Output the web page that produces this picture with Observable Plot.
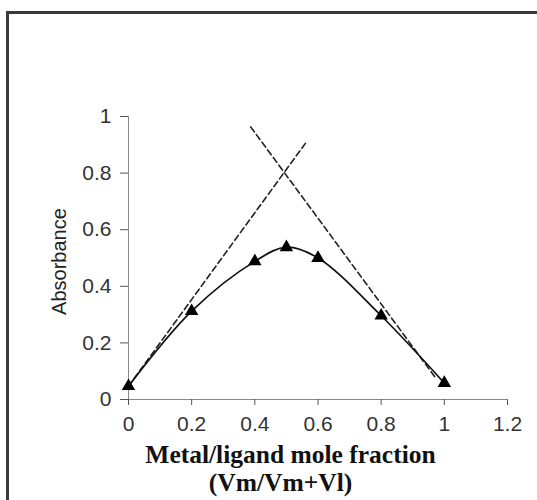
<!DOCTYPE html>
<html>
<head>
<meta charset="utf-8">
<script src="https://cdn.jsdelivr.net/npm/d3@7"></script>
<script src="https://cdn.jsdelivr.net/npm/@observablehq/plot@0.6"></script>
<style>
  html, body { margin: 0; padding: 0; background: #fff; overflow: hidden; }
  #wrap { position: relative; width: 537px; height: 500px; overflow: hidden; }
  #border { position: absolute; left: 6px; top: 11px; width: 1000px; height: 1000px;
            border-left: 3px solid #3a3a3a; border-top: 3px solid #3a3a3a; box-sizing: border-box; }
  #chart { position: absolute; left: 0; top: 0; }
</style>
</head>
<body>
<div id="wrap"><div id="border"></div><div id="chart"></div></div>
<script>
// Measured data (Job's method)
const fraction = [0, 0.2, 0.4, 0.5, 0.6, 0.8, 1.0];
const absorbance = [0.047, 0.312, 0.488, 0.538, 0.500, 0.296, 0.058];

// Extrapolated tangent lines (dashed)
const ascX = [0, 0.56];
const ascY = [0.047, 0.905];
const descX = [0.387, 0.97];
const descY = [0.963, 0.08];

const xTicks = [0, 0.2, 0.4, 0.6, 0.8, 1.0, 1.2];
const yTicks = [0, 0.2, 0.4, 0.6, 0.8, 1.0];
const xTitle1 = "Metal/ligand mole fraction";
const xTitle2 = "(Vm/Vm+Vl)";
const yTitle = "Absorbance";

const pts = fraction.map((f, i) => ({x: f, y: absorbance[i]}));
const asc = ascX.map((v, i) => ({x: v, y: ascY[i]}));
const desc = descX.map((v, i) => ({x: v, y: descY[i]}));
const fmt = d => String(+d.toFixed(1));

const chart = Plot.plot({
  width: 537,
  height: 500,
  marginLeft: 128,
  marginRight: 30,
  marginTop: 116,
  marginBottom: 101,
  x: {domain: [0, 1.2]},
  y: {domain: [0, 1]},
  style: {fontFamily: "'Liberation Sans', Arial, sans-serif", background: "transparent", color: "#333"},
  marks: [
    Plot.ruleY([0], {stroke: "#888", strokeWidth: 1}),
    Plot.ruleX([0], {stroke: "#888", strokeWidth: 1}),
    Plot.axisX({ticks: xTicks, tickFormat: fmt, tickSize: 6, tickPadding: 11, fontSize: 21, label: null, stroke: "#555"}),
    Plot.axisY({ticks: yTicks, tickFormat: fmt, tickSize: 8, tickPadding: 9, fontSize: 21, label: null, stroke: "#555"}),
    Plot.line(asc, {x: "x", y: "y", stroke: "#222", strokeWidth: 1.6, strokeDasharray: "6,3.5"}),
    Plot.line(desc, {x: "x", y: "y", stroke: "#222", strokeWidth: 1.6, strokeDasharray: "6,3.5"}),
    Plot.line(pts, {x: "x", y: "y", stroke: "#111", strokeWidth: 1.7, curve: "catmull-rom"}),
    Plot.dot(pts, {x: "x", y: "y", symbol: "triangle", r: 5, fill: "#000", stroke: "none"}),
    Plot.text([xTitle1], {frameAnchor: "bottom", dx: -27.5, dy: 63, lineAnchor: "bottom", textAnchor: "middle",
      fontFamily: "'Liberation Serif', 'Times New Roman', serif", fontWeight: "bold", fontSize: 25.5, fill: "#111"}),
    Plot.text([xTitle2], {frameAnchor: "bottom", dx: -37.5, dy: 91, lineAnchor: "bottom", textAnchor: "middle",
      fontFamily: "'Liberation Serif', 'Times New Roman', serif", fontWeight: "bold", fontSize: 25.5, fill: "#111"}),
    Plot.text([yTitle], {frameAnchor: "left", dx: -63, dy: 3.5, rotate: -90, lineAnchor: "bottom", textAnchor: "middle",
      fontSize: 20, fill: "#222"})
  ]
});
document.getElementById("chart").appendChild(chart);
</script>
</body>
</html>
